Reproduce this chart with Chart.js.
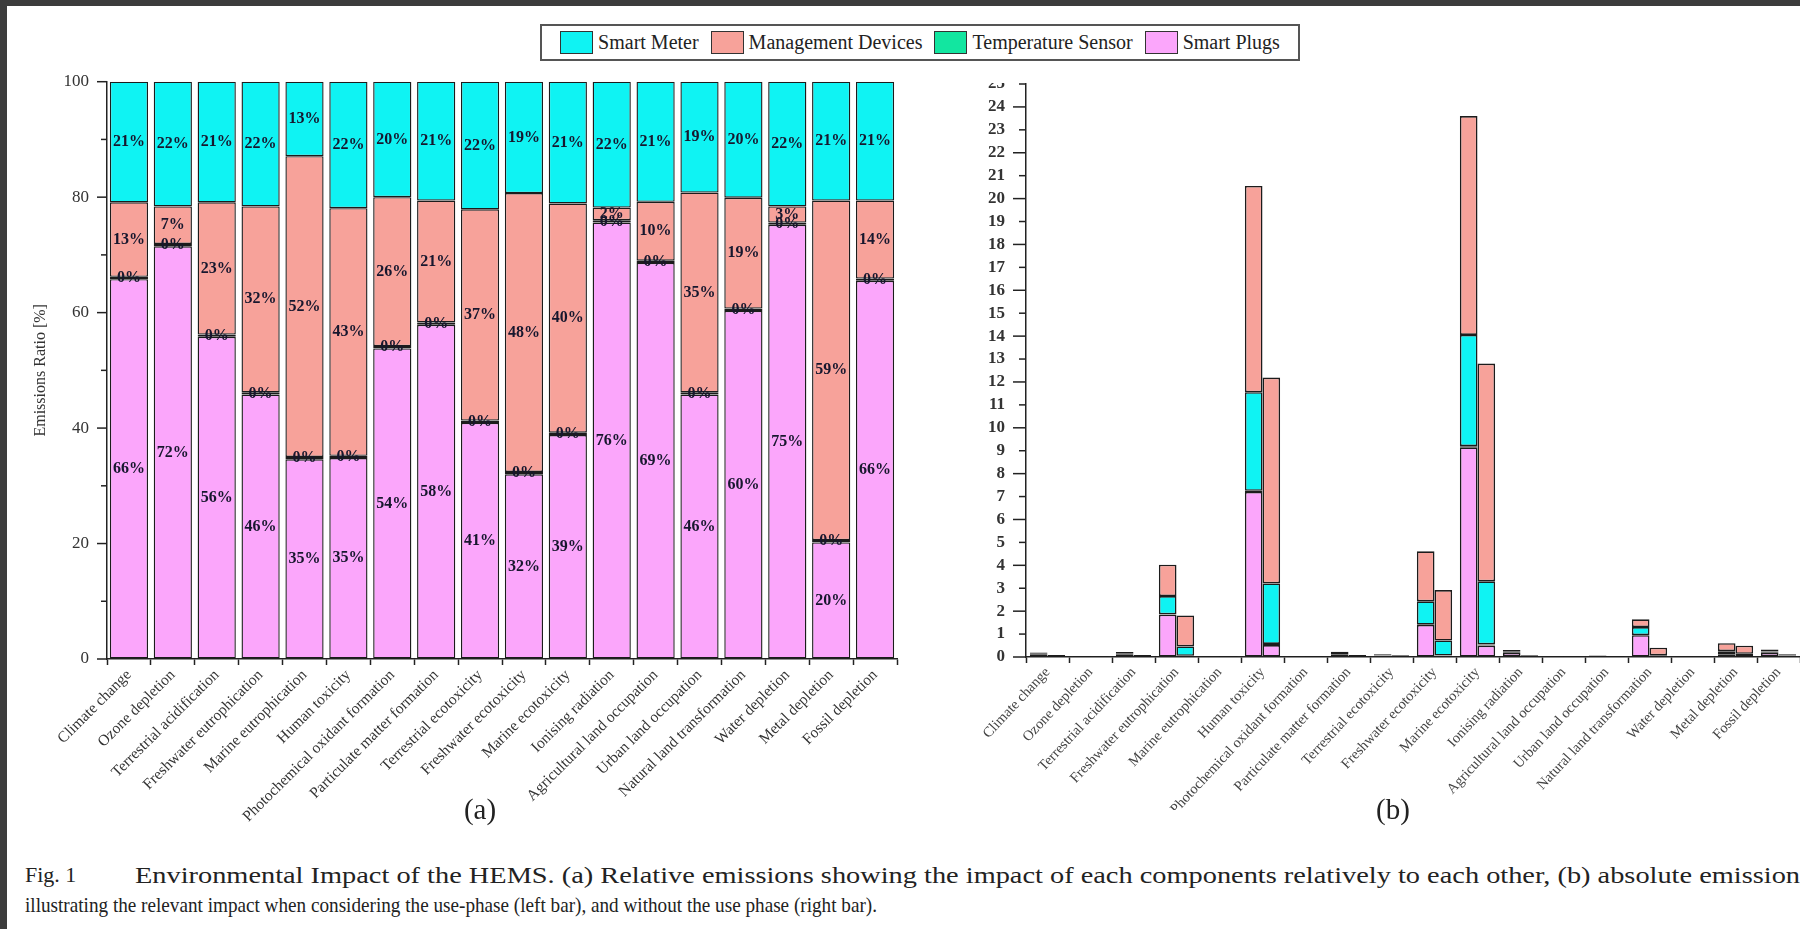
<!DOCTYPE html>
<html>
<head>
<meta charset="utf-8">
<script src="https://cdn.jsdelivr.net/npm/chart.js@4.4.1/dist/chart.umd.min.js"></script>
<style>
  html, body { margin: 0; padding: 0; }
  body { width: 1800px; height: 929px; background: #3c3c3c; position: relative; overflow: hidden;
         font-family: "Liberation Serif", "Times New Roman", serif; color: #222; }
  #page { position: absolute; left: 7px; top: 6px; right: 0; bottom: 0; background: #fff; }
  canvas { position: absolute; }
  #legend { position: absolute; left: 540px; top: 24px; width: 760px; height: 37px; box-sizing: border-box;
            border: 2px solid #555; display: flex; align-items: center; justify-content: center; gap: 4px; }
  .item { display: flex; align-items: center; gap: 5px; font-size: 20px; white-space: nowrap; margin-right: 8px; }
  .item:last-child { margin-right: 0; }
  .sw { width: 33px; height: 23px; box-sizing: border-box; border: 1.5px solid #333; }
  .panel { position: absolute; font-size: 29px; transform: translate(-50%, -50%); }
  .cap { position: absolute; white-space: nowrap; transform-origin: 0 50%; line-height: 1; }
</style>
</head>
<body>
<div id="page"></div>
<div id="legend"></div>
<canvas id="chartA" width="905" height="840" style="left:0;top:0"></canvas>
<canvas id="chartB" width="895" height="727" style="left:905px;top:83px"></canvas>
<div class="panel" style="left:480px;top:809px">(a)</div>
<div class="panel" style="left:1393px;top:809px">(b)</div>
<div class="cap" id="fig" style="left:25px;top:864px;font-size:22px">Fig. 1</div>
<div class="cap" id="line1" style="left:135px;top:864px;font-size:23px">Environmental Impact of the HEMS. (a) Relative emissions showing the impact of each components relatively to each other, (b) absolute emissions</div>
<div class="cap" id="line2" style="left:25px;top:895px;font-size:21px">illustrating the relevant impact when considering the use-phase (left bar), and without the use phase (right bar).</div>
<script>
// Kategorien (gleich für beide Teilbilder)
const categories = [
    'Climate change', 'Ozone depletion', 'Terrestrial acidification', 'Freshwater eutrophication',
    'Marine eutrophication', 'Human toxicity', 'Photochemical oxidant formation',
    'Particulate matter formation', 'Terrestrial ecotoxicity', 'Freshwater ecotoxicity',
    'Marine ecotoxicity', 'Ionising radiation', 'Agricultural land occupation',
    'Urban land occupation', 'Natural land transformation', 'Water depletion',
    'Metal depletion', 'Fossil depletion'
];

const seriesNames = ['Smart Meter', 'Management Devices', 'Temperature Sensor', 'Smart Plugs'];
const seriesColors = ['#0ff3f3', '#f7a29a', '#12e6a0', '#fba6fb'];

// (a) relative Anteile [%]
const plugsA = [65.8, 71.5, 55.8, 45.8, 34.6, 34.8, 53.8, 57.9, 40.9, 32.0, 38.8, 75.6, 68.6, 45.8, 60.3, 75.2, 20.2, 65.5];
const tempA  = [0.4, 0.4, 0.4, 0.4, 0.4, 0.4, 0.4, 0.4, 0.4, 0.4, 0.4, 0.4, 0.4, 0.4, 0.4, 0.4, 0.4, 0.4];
const mgmtA  = [12.9, 6.5, 22.9, 32.2, 52.1, 42.9, 25.8, 21.1, 36.6, 48.3, 39.7, 2.2, 10.2, 34.6, 19.2, 2.8, 58.8, 13.5];
const meterA = [20.9, 21.6, 20.9, 21.6, 12.9, 21.9, 20.0, 20.6, 22.1, 19.3, 21.1, 21.8, 20.8, 19.2, 20.1, 21.6, 20.6, 20.6];
const ticksA = [0, 20, 40, 60, 80, 100];

// (b) absolute Emissionen, mit Nutzungsphase (linker Balken)
const plugsUse = [0.10, 0.01, 0.12, 1.85, 0.01, 7.20, 0.01, 0.12, 0.05, 1.40, 9.15, 0.18, 0.01, 0.02, 0.95, 0.003, 0.12, 0.18];
const tempUse  = [0.002, 0.001, 0.002, 0.01, 0.001, 0.05, 0.001, 0.002, 0.001, 0.01, 0.05, 0.002, 0.001, 0.001, 0.005, 0.001, 0.002, 0.002];
const meterUse = [0.04, 0.005, 0.04, 0.80, 0.005, 4.30, 0.005, 0.05, 0.03, 1.02, 4.85, 0.05, 0.005, 0.01, 0.35, 0.001, 0.13, 0.06];
const mgmtUse  = [0.05, 0.01, 0.06, 1.37, 0.02, 9.00, 0.02, 0.06, 0.04, 2.18, 9.55, 0.07, 0.02, 0.03, 0.34, 0.001, 0.35, 0.08];
// ohne Nutzungsphase (rechter Balken)
const plugsNo = [0.01, 0.002, 0.01, 0.04, 0.005, 0.52, 0.005, 0.01, 0.01, 0.05, 0.50, 0.01, 0.002, 0.005, 0.02, 0.001, 0.01, 0.02];
const tempNo  = [0.002, 0.001, 0.002, 0.01, 0.001, 0.05, 0.001, 0.002, 0.001, 0.01, 0.05, 0.002, 0.001, 0.001, 0.005, 0.001, 0.002, 0.002];
const meterNo = [0.03, 0.003, 0.03, 0.41, 0.005, 2.64, 0.005, 0.03, 0.02, 0.66, 2.75, 0.02, 0.003, 0.005, 0.05, 0.001, 0.13, 0.04];
const mgmtNo  = [0.04, 0.01, 0.04, 1.35, 0.02, 8.98, 0.02, 0.04, 0.04, 2.20, 9.50, 0.04, 0.01, 0.02, 0.33, 0.001, 0.35, 0.06];

const serif = '"Liberation Serif", "Times New Roman", serif';
const axisColor = '#222';

// Legende (gemeinsam für beide Diagramme)
const legend = document.getElementById('legend');
seriesNames.forEach((name, i) => {
    const item = document.createElement('div');
    item.className = 'item';
    item.innerHTML = `<span class="sw" style="background:${seriesColors[i]}"></span><span>${name}</span>`;
    legend.appendChild(item);
});

function color(name) {
    return seriesColors[seriesNames.indexOf(name)];
}

function barSet(name, data, stack, border) {
    return {
        label: name, data: data, stack: stack,
        backgroundColor: color(name), borderColor: '#1c1c1c',
        borderWidth: border, borderSkipped: false
    };
}

// Kurze und lange Striche an der y-Achse
const yTickMarks = {
    id: 'yTickMarks',
    afterDraw(chart, args, opts) {
        const s = chart.scales.y;
        const ctx = chart.ctx;
        ctx.save();
        ctx.strokeStyle = axisColor;
        ctx.lineWidth = 1.5;
        s.ticks.forEach(t => {
            const y = s.getPixelForValue(t.value);
            const len = t.value % opts.major === 0 ? opts.long : opts.short;
            ctx.beginPath();
            ctx.moveTo(s.right, y);
            ctx.lineTo(s.right - len, y);
            ctx.stroke();
        });
        ctx.restore();
    }
};

// Prozentwerte in den Segmenten
const percentLabels = {
    id: 'percentLabels',
    afterDatasetsDraw(chart) {
        const ctx = chart.ctx;
        ctx.save();
        ctx.font = 'bold 16px ' + serif;
        ctx.fillStyle = '#17172e';
        ctx.textAlign = 'center';
        ctx.textBaseline = 'middle';
        chart.data.datasets.forEach((ds, i) => {
            chart.getDatasetMeta(i).data.forEach((bar, j) => {
                ctx.fillText(Math.round(ds.data[j]) + '%', bar.x, (bar.y + bar.base) / 2);
            });
        });
        ctx.restore();
    }
};

function xAxis(fontSize, rotation, height, color) {
    return {
        stacked: true,
        grid: { offset: true, drawOnChartArea: false, drawTicks: true, tickLength: 6, tickWidth: 1.5, tickColor: axisColor },
        border: { color: axisColor, width: 1.5 },
        ticks: { autoSkip: false, minRotation: rotation, maxRotation: rotation, padding: 1,
                 font: { family: serif, size: fontSize }, color: color },
        afterFit(scale) { scale.height = height; }
    };
}

// (a) Relative Emissionen
new Chart(document.getElementById('chartA'), {
    type: 'bar',
    data: {
        labels: categories,
        datasets: [
            barSet('Smart Plugs', plugsA, 'a', 1.4),
            barSet('Temperature Sensor', tempA, 'a', 1.4),
            barSet('Management Devices', mgmtA, 'a', 1.4),
            barSet('Smart Meter', meterA, 'a', 1.4)
        ]
    },
    options: {
        responsive: false, animation: false,
        datasets: { bar: { barPercentage: 0.87, categoryPercentage: 1.0 } },
        layout: { padding: { left: 0, top: 81.7, right: 8, bottom: 0 } },
        plugins: { legend: { display: false }, tooltip: { enabled: false },
                   yTickMarks: { major: 20, long: 10, short: 6 } },
        scales: {
            x: xAxis(15.5, 45, 181, '#333'),
            y: {
                stacked: true, min: 0, max: 100,
                grid: { display: true, drawOnChartArea: false, drawTicks: false },
                border: { color: axisColor, width: 1.5 },
                ticks: { stepSize: 10, padding: 18, color: '#333', font: { family: serif, size: 17 },
                         callback: v => ticksA.includes(v) ? v : '' },
                title: { display: true, text: 'Emissions Ratio [%]', color: '#333',
                         font: { family: serif, size: 16 }, padding: { top: 31, bottom: 0 } },
                afterFit(scale) { scale.width = 107; }
            }
        }
    },
    plugins: [yTickMarks, percentLabels]
});

// (b) Absolute Emissionen mit / ohne Nutzungsphase
new Chart(document.getElementById('chartB'), {
    type: 'bar',
    data: {
        labels: categories,
        datasets: [
            barSet('Smart Plugs', plugsUse, 'use', 1.6),
            barSet('Temperature Sensor', tempUse, 'use', 1.6),
            barSet('Smart Meter', meterUse, 'use', 1.6),
            barSet('Management Devices', mgmtUse, 'use', 1.6),
            barSet('Smart Plugs', plugsNo, 'no', 1.6),
            barSet('Temperature Sensor', tempNo, 'no', 1.6),
            barSet('Smart Meter', meterNo, 'no', 1.6),
            barSet('Management Devices', mgmtNo, 'no', 1.6)
        ]
    },
    options: {
        responsive: false, animation: false,
        datasets: { bar: { barPercentage: 1.0, categoryPercentage: 0.82 } },
        layout: { padding: { left: 0, top: 1, right: 0, bottom: 0 } },
        plugins: { legend: { display: false }, tooltip: { enabled: false },
                   yTickMarks: { major: 2, long: 13, short: 7 } },
        scales: {
            x: xAxis(14.5, 47, 153, '#444'),
            y: {
                stacked: true, min: 0, max: 25,
                grid: { display: true, drawOnChartArea: false, drawTicks: false },
                border: { color: axisColor, width: 1.5 },
                ticks: { stepSize: 1, autoSkip: false, padding: 21, color: '#333',
                         font: { family: serif, size: 17, weight: 'bold' } },
                afterFit(scale) { scale.width = 121; scale.paddingTop = 0; }
            }
        }
    },
    plugins: [yTickMarks]
});

// Bildunterschrift auf die Breite im Original bringen
function fitWidth(el, width) {
    const w = el.getBoundingClientRect().width;
    el.style.transform = `scaleX(${width / w})`;
}
const line1 = document.getElementById('line1');
const probe = document.createElement('span');
probe.className = 'cap';
probe.style.fontSize = '23px';
probe.textContent = line1.textContent.slice(0, -1);
document.body.appendChild(probe);
const w1 = probe.getBoundingClientRect().width;
probe.remove();
line1.style.transform = `scaleX(${1665 / w1})`;
fitWidth(document.getElementById('line2'), 852);
</script>
</body>
</html>
